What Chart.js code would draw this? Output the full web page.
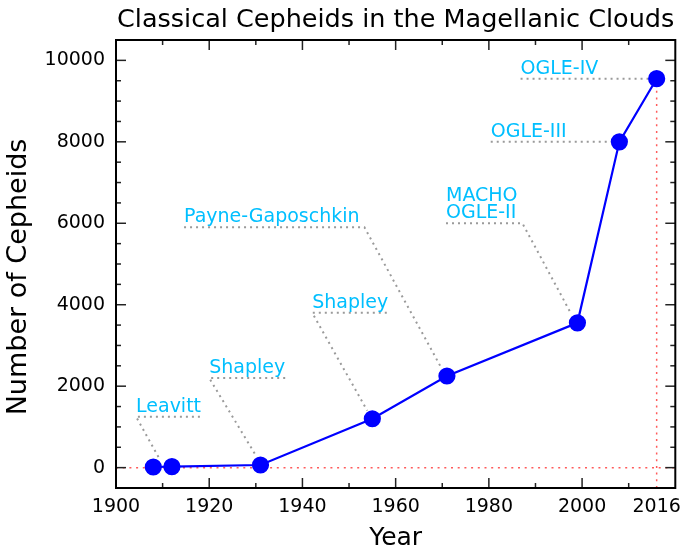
<!DOCTYPE html>
<html>
<head>
<meta charset="utf-8">
<script src="https://cdn.jsdelivr.net/npm/chart.js@4"></script>
<style>
  html, body { margin: 0; padding: 0; background: #fff; }
  #wrap { width: 685px; height: 549px; }
</style>
</head>
<body>
<div id="wrap"><canvas id="chart"></canvas></div>
<script>
// datos
const years = [1908, 1912, 1931, 1955, 1971, 1999, 2008, 2016];
const counts = [16, 25, 65, 1200, 2250, 3555, 8000, 9550];
const xTicks = [1900, 1920, 1940, 1960, 1980, 2000, 2016];
const yTicks = [0, 2000, 4000, 6000, 8000, 10000];

// etiquetas de los catálogos y sus líneas guía (subrayado + flecha hacia el punto)
const surveyNames = [['Leavitt'], ['Shapley'], ['Shapley'], ['Payne-Gaposchkin'], ['MACHO', 'OGLE-II'], ['OGLE-III'], ['OGLE-IV']];
const labelX = [1904.3, 1920, 1942.1, 1914.6, 1970.8, 1980.4, 1986.8];
const labelY = [1250, 2200, 3800, 5900, 6000, 8000, 9550];
const leaderX = [
  [1918, 1904.3, 1909.5],
  [1936.3, 1920, 1930],
  [1958.1, 1942.1, 1953.9],
  [1914.6, 1953.3, 1969.7],
  [1970.8, 1987.2, 1997.5],
  [1980.4, 2008],
  [1986.8, 2016]
];
const leaderY = [
  [1250, 1250, 180],
  [2200, 2200, 300],
  [3800, 3800, 1400],
  [5900, 5900, 2470],
  [6000, 6000, 3810],
  [8000, 8000],
  [9550, 9550]
];
// líneas rojas de referencia
const zeroLineX = [1900, 2020];
const zeroLineY = [0, 0];
const nowLineX = [2016, 2016];
const nowLineY = [-500, 9550];

const FONT = 'DejaVu Sans';

function pts(xs, ys) {
  return xs.map((x, i) => ({ x: x, y: ys[i] }));
}

const datasets = [];
datasets.push({
  data: pts(years, counts),
  borderColor: '#0000ff',
  backgroundColor: '#0000ff',
  borderWidth: 2.2,
  pointRadius: 7.5,
  pointHoverRadius: 7.5,
  order: 0
});
leaderX.forEach((xs, i) => {
  datasets.push({
    data: pts(xs, leaderY[i]),
    borderColor: '#9a9a9a',
    borderWidth: 2,
    borderDash: [2, 4],
    pointRadius: 0,
    order: 2
  });
});
datasets.push({
  data: pts(zeroLineX, zeroLineY),
  borderColor: '#ff5a5a',
  borderWidth: 1.5,
  borderDash: [2, 4.7],
  pointRadius: 0,
  order: 1
});
datasets.push({
  data: pts(nowLineX, nowLineY),
  borderColor: '#ff5a5a',
  borderWidth: 1.5,
  borderDash: [2, 4.7],
  pointRadius: 0,
  order: 1
});

// marco con marcas hacia dentro en los cuatro lados
const framePlugin = {
  id: 'frame',
  afterDraw(chart) {
    const { ctx, chartArea: a, scales: { x, y } } = chart;
    ctx.save();
    ctx.strokeStyle = '#222';
    ctx.lineWidth = 1.5;
    const seg = (x1, y1, x2, y2) => {
      ctx.beginPath(); ctx.moveTo(x1, y1); ctx.lineTo(x2, y2); ctx.stroke();
    };
    for (let v = 1910; v < 2020; v += 10) {
      const px = x.getPixelForValue(v);
      const len = v % 20 === 0 ? 10 : 5;
      seg(px, a.bottom, px, a.bottom - len);
      seg(px, a.top, px, a.top + len);
    }
    for (let v = 0; v <= 10000; v += 500) {
      const py = y.getPixelForValue(v);
      const len = v % 2000 === 0 ? 10 : 5;
      seg(a.left, py, a.left + len, py);
      seg(a.right, py, a.right - len, py);
    }
    ctx.strokeStyle = '#000';
    ctx.lineWidth = 2;
    ctx.strokeRect(a.left, a.top, a.right - a.left, a.bottom - a.top);

    // título del eje Y
    ctx.fillStyle = '#000';
    ctx.font = '27px "' + FONT + '"';
    ctx.textAlign = 'center';
    ctx.textBaseline = 'middle';
    ctx.translate(19, (a.top + a.bottom) / 2 + 13);
    ctx.rotate(-Math.PI / 2);
    ctx.fillText('Number of Cepheids', 0, 0);
    ctx.restore();
  }
};

const labelPlugin = {
  id: 'surveyLabels',
  afterDatasetsDraw(chart) {
    const { ctx, scales: { x, y } } = chart;
    ctx.save();
    ctx.fillStyle = '#00bfff';
    ctx.font = '19px "' + FONT + '"';
    ctx.textAlign = 'left';
    ctx.textBaseline = 'alphabetic';
    surveyNames.forEach((lines, i) => {
      const px = x.getPixelForValue(labelX[i]);
      const py = y.getPixelForValue(labelY[i]) - 5;
      lines.slice().reverse().forEach((t, k) => {
        ctx.fillText(t, px, py - k * 17);
      });
    });
    ctx.restore();
  }
};

const ctx = document.getElementById('chart').getContext('2d');
const chart = new Chart(ctx, {
  type: 'line',
  data: { datasets: datasets },
  options: {
    responsive: true,
    maintainAspectRatio: false,
    animation: false,
    layout: { padding: { left: 0, right: 9, top: 0, bottom: 0 } },
    plugins: {
      legend: { display: false },
      tooltip: { enabled: false },
      title: {
        display: true,
        fullSize: false,
        text: 'Classical Cepheids in the Magellanic Clouds',
        color: '#000',
        font: { family: FONT, size: 25.5, weight: 'normal', lineHeight: 1.2 },
        padding: { top: 5, bottom: 4.4 }
      }
    },
    scales: {
      x: {
        type: 'linear',
        min: 1900,
        max: 2020,
        grid: { display: false },
        border: { display: false },
        afterBuildTicks: (s) => { s.ticks = xTicks.map(v => ({ value: v })); },
        afterFit: (s) => { s.height = 61; },
        ticks: {
          autoSkip: false,
          maxRotation: 0,
          padding: 0,
          color: '#000',
          font: { family: FONT, size: 19 },
          callback: (v) => String(v)
        },
        title: {
          display: true,
          text: 'Year',
          color: '#000',
          font: { family: FONT, size: 25 },
          padding: { top: 0, bottom: -4 }
        }
      },
      y: {
        min: -500,
        max: 10500,
        grid: { display: false },
        border: { display: false },
        afterBuildTicks: (s) => { s.ticks = yTicks.map(v => ({ value: v })); },
        afterFit: (s) => { s.width = 116; },
        ticks: {
          padding: 3,
          color: '#000',
          font: { family: FONT, size: 19 },
          callback: (v) => String(v)
        }
      }
    }
  },
  plugins: [framePlugin, labelPlugin]
});
</script>
</body>
</html>
